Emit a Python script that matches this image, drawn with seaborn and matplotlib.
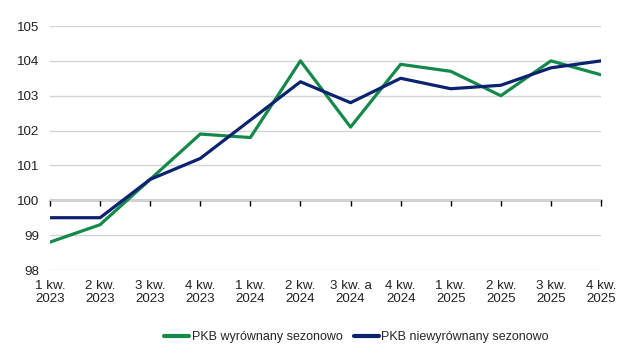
import pandas as pd
import seaborn as sns
import matplotlib.pyplot as plt

quarters = ['1 kw.\n2023', '2 kw.\n2023', '3 kw.\n2023', '4 kw.\n2023',
            '1 kw.\n2024', '2 kw.\n2024', '3 kw. a\n2024', '4 kw.\n2024',
            '1 kw.\n2025', '2 kw.\n2025', '3 kw.\n2025', '4 kw.\n2025']
sa = [98.8, 99.3, 100.6, 101.9, 101.8, 104.0, 102.1, 103.9, 103.7, 103.0, 104.0, 103.6]
nsa = [99.5, 99.5, 100.6, 101.2, 102.3, 103.4, 102.8, 103.5, 103.2, 103.3, 103.8, 104.0]
series_names = ['PKB wyrównany sezonowo', 'PKB niewyrównany sezonowo']
colors = ['#13894a', '#0b2270']

df = pd.concat([
    pd.DataFrame({'x': range(len(quarters)), 'y': sa, 'series': series_names[0]}),
    pd.DataFrame({'x': range(len(quarters)), 'y': nsa, 'series': series_names[1]}),
])

sns.set_style("white")
plt.rcParams['font.family'] = ['Liberation Sans', 'DejaVu Sans']

fig = plt.figure(figsize=(6.23, 3.6), dpi=100)
ax = fig.add_axes([50 / 623, 0.25, 551 / 623, 1 - 0.25 - 26 / 360])
sns.lineplot(data=df, x='x', y='y', hue='series', palette=colors,
             linewidth=2.3, ax=ax, legend=True)

ymin, ymax = 98, 105
ax.set_ylim(ymin, ymax)
ax.set_xlim(0, len(quarters) - 1)
ax.set_yticks(range(ymin, ymax + 1))
ax.yaxis.grid(True, color='#d4d4d4', linewidth=1)
ax.set_axisbelow(True)
for s in ax.spines.values():
    s.set_visible(False)
ax.set_xticks(range(len(quarters)))
ax.set_xticklabels(quarters, linespacing=1.15)
ax.tick_params(axis='both', length=0, labelsize=9.6, colors='#222222')
ax.tick_params(axis='x', pad=7)
ax.tick_params(axis='y', pad=8)
ax.set_xlabel('')
ax.set_ylabel('')

# x axis line at 100
sec = ax.secondary_xaxis((100 - ymin) / (ymax - ymin))
sec.set_xticks(range(len(quarters)))
sec.set_xticklabels([])
sec.tick_params(length=4, width=1, color='black', direction='out')
sec.spines['bottom'].set_color('black')
sec.spines['bottom'].set_linewidth(1)

leg = ax.legend(loc='center', bbox_to_anchor=(0.556, -0.275), ncol=2, frameon=False,
                fontsize=9.0, handlelength=2.0, handletextpad=0.2, columnspacing=0.9)
for line in leg.get_lines():
    line.set_linewidth(3)

plt.savefig('out.png', dpi=100)
